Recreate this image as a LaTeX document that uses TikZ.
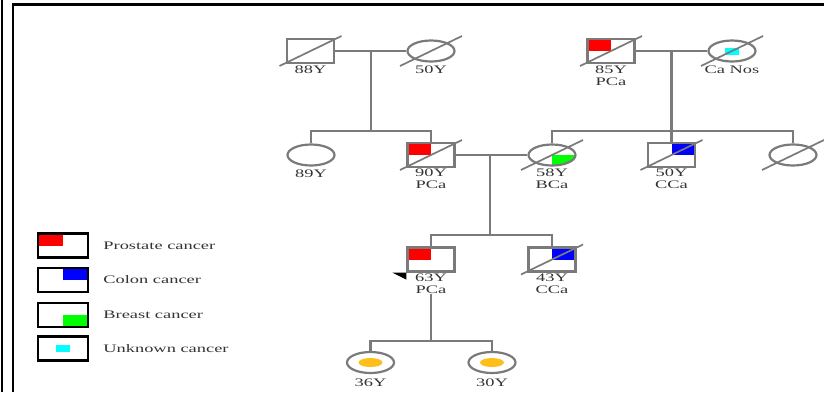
\documentclass[tikz,border=0pt]{standalone}
\usepackage{fontspec}
\usetikzlibrary{positioning,shapes.geometric}
\newfontfamily\pedfont[FakeStretch=1.6]{Liberation Serif}
\definecolor{pedgrey}{HTML}{7A7A7A}
\definecolor{pedtext}{HTML}{333333}
\definecolor{pedred}{HTML}{FF0000}
\definecolor{pedblue}{HTML}{0000FF}
\definecolor{pedgreen}{HTML}{00FF00}
\definecolor{pedcyan}{HTML}{00FFFF}
\definecolor{pedorange}{HTML}{FFBF1A}
\tikzset{
  pline/.style={draw=pedgrey, line width=2.2pt},
  slash/.style={draw=pedgrey, line width=1.7pt},
  person/.style={draw=pedgrey, line width=2.2pt, fill=white, inner sep=0pt,
                 minimum width=47pt},
  male/.style={person, rectangle, minimum height=24pt},
  female/.style={person, ellipse, minimum height=21pt},
  lbl/.style={font=\pedfont\fontsize{11.5}{12}\selectfont, text=pedtext,
              align=center, inner sep=0pt},
  legbox/.style={rectangle, draw=black, line width=2.4pt, fill=white, inner sep=0pt,
                 minimum width=50pt, minimum height=24pt},
  pca/.style={path picture={\fill[pedred] (path picture bounding box.north west)
                 rectangle (path picture bounding box.center);}},
  cca/.style={path picture={\fill[pedblue] (path picture bounding box.north east)
                 rectangle (path picture bounding box.center);}},
  bca/.style={path picture={\fill[pedgreen] (path picture bounding box.south east)
                 rectangle (path picture bounding box.center);}},
  unk/.style={path picture={\fill[pedcyan] ([shift={(-7pt,-3.5pt)}]path picture bounding box.center)
                 rectangle ([shift={(7pt,3.5pt)}]path picture bounding box.center);}},
  carrier/.style={path picture={\fill[pedorange] (path picture bounding box.center)
                 ellipse [x radius=12pt, y radius=4.5pt];}},
}
\newcommand{\dead}[1]{\draw[slash] ([shift={(-31pt,-15pt)}]#1.center) -- ([shift={(31pt,15pt)}]#1.center);}

\begin{document}
\begin{tikzpicture}[x=1pt, y=-1pt]
  \useasboundingbox (0,0) rectangle (824,392);
  % frame
  \draw[line width=2.4pt] (2,0) -- (2,392);
  \draw[line width=2.4pt] (824,4.5) -- (13,4.5) -- (13,392);

  % generation I
  \node[male]          (m88)  at (310.5,51) {};
  \node[female]        (f50)  at (431,51)   {};
  \node[male, pca]     (m85)  at (611,51)   {};
  \node[female, unk]   (fcan) at (732,51)   {};
  \coordinate (c1) at (370.75,51);
  \coordinate (c2) at (671.5,51);

  % generation II
  \node[female]        (f89)  at (311,155)   {};
  \node[male, pca]     (m90)  at (431,155)   {};
  \node[female, bca]   (f58)  at (552,155)   {};
  \node[male, cca]     (m50)  at (671.5,155) {};
  \node[female]        (fu)   at (793,155)   {};
  \coordinate (s1) at (370.75,131);
  \coordinate (s2) at (671.5,131);
  \coordinate (c3) at (490,155);

  % generation III
  \node[male, pca]     (m63)  at (431,259.5) {};
  \node[male, cca]     (m43)  at (552,259.5) {};
  \coordinate (s3) at (490,235);

  % generation IV
  \node[female, carrier] (f36) at (370.5,362.5) {};
  \node[female, carrier] (f30) at (492,362.5)   {};
  \coordinate (s4) at (431,341);

  % labels
  \node[lbl, below=15pt of m88.center]  (t88)  {88Y};
  \node[lbl, below=15pt of f50.center]  (t50)  {50Y};
  \node[lbl, below=15pt of m85.center]  (t85)  {85Y\\PCa};
  \node[lbl, below=15pt of fcan.center] (tcan) {Ca Nos};
  \node[lbl, below=15pt of f89.center]  (t89)  {89Y};
  \node[lbl, below=14pt of m90.center]  (t90)  {90Y\\PCa};
  \node[lbl, below=14pt of f58.center]  (t58)  {58Y\\BCa};
  \node[lbl, below=14pt of m50.center]  (t50b) {50Y\\CCa};
  \node[lbl, below=14pt of m63.center]  (t63)  {63Y\\PCa};
  \node[lbl, below=14pt of m43.center]  (t43)  {43Y\\CCa};
  \node[lbl, below=16pt of f36.center]  (t36)  {36Y};
  \node[lbl, below=16pt of f30.center]  (t30)  {30Y};

  % lines of descent
  \draw[pline] (m88) -- (f50);
  \draw[pline] (m85) -- (fcan);
  \draw[pline] (c1) -- (s1);
  \draw[pline] (c2) -- (s2);
  \draw[pline] (f89) |- (s1) -| (m90);
  \draw[pline] (f58) |- (s2) -| (fu);
  \draw[pline] (m50) -- (s2);
  \draw[pline] (m90) -- (f58);
  \draw[pline] (c3) -- (s3);
  \draw[pline] (m63) |- (s3) -| (m43);
  \draw[pline] (t63) -- (s4);
  \draw[pline] (f36) |- (s4) -| (f30);

  % deceased
  \dead{m88} \dead{f50} \dead{m85} \dead{fcan}
  \dead{m90} \dead{f58} \dead{m50} \dead{fu} \dead{m43}

  % proband
  \fill ([shift={(-14pt,0pt)}]m63.south west) -- (m63.south west)
        -- ([shift={(0pt,-7pt)}]m63.south west) -- cycle;

  % legend
  \node[legbox, pca] (l1) at (63,245.5) {};
  \node[legbox, cca] (l2) at (63,280)   {};
  \node[legbox, bca] (l3) at (63,315)   {};
  \node[legbox, unk] (l4) at (63,348.5) {};
  \node[lbl, right=14pt of l1] (lt1) {Prostate cancer};
  \node[lbl, right=14pt of l2] (lt2) {Colon cancer};
  \node[lbl, right=14pt of l3] (lt3) {Breast cancer};
  \node[lbl, right=14pt of l4] (lt4) {Unknown cancer};
\end{tikzpicture}
\end{document}
